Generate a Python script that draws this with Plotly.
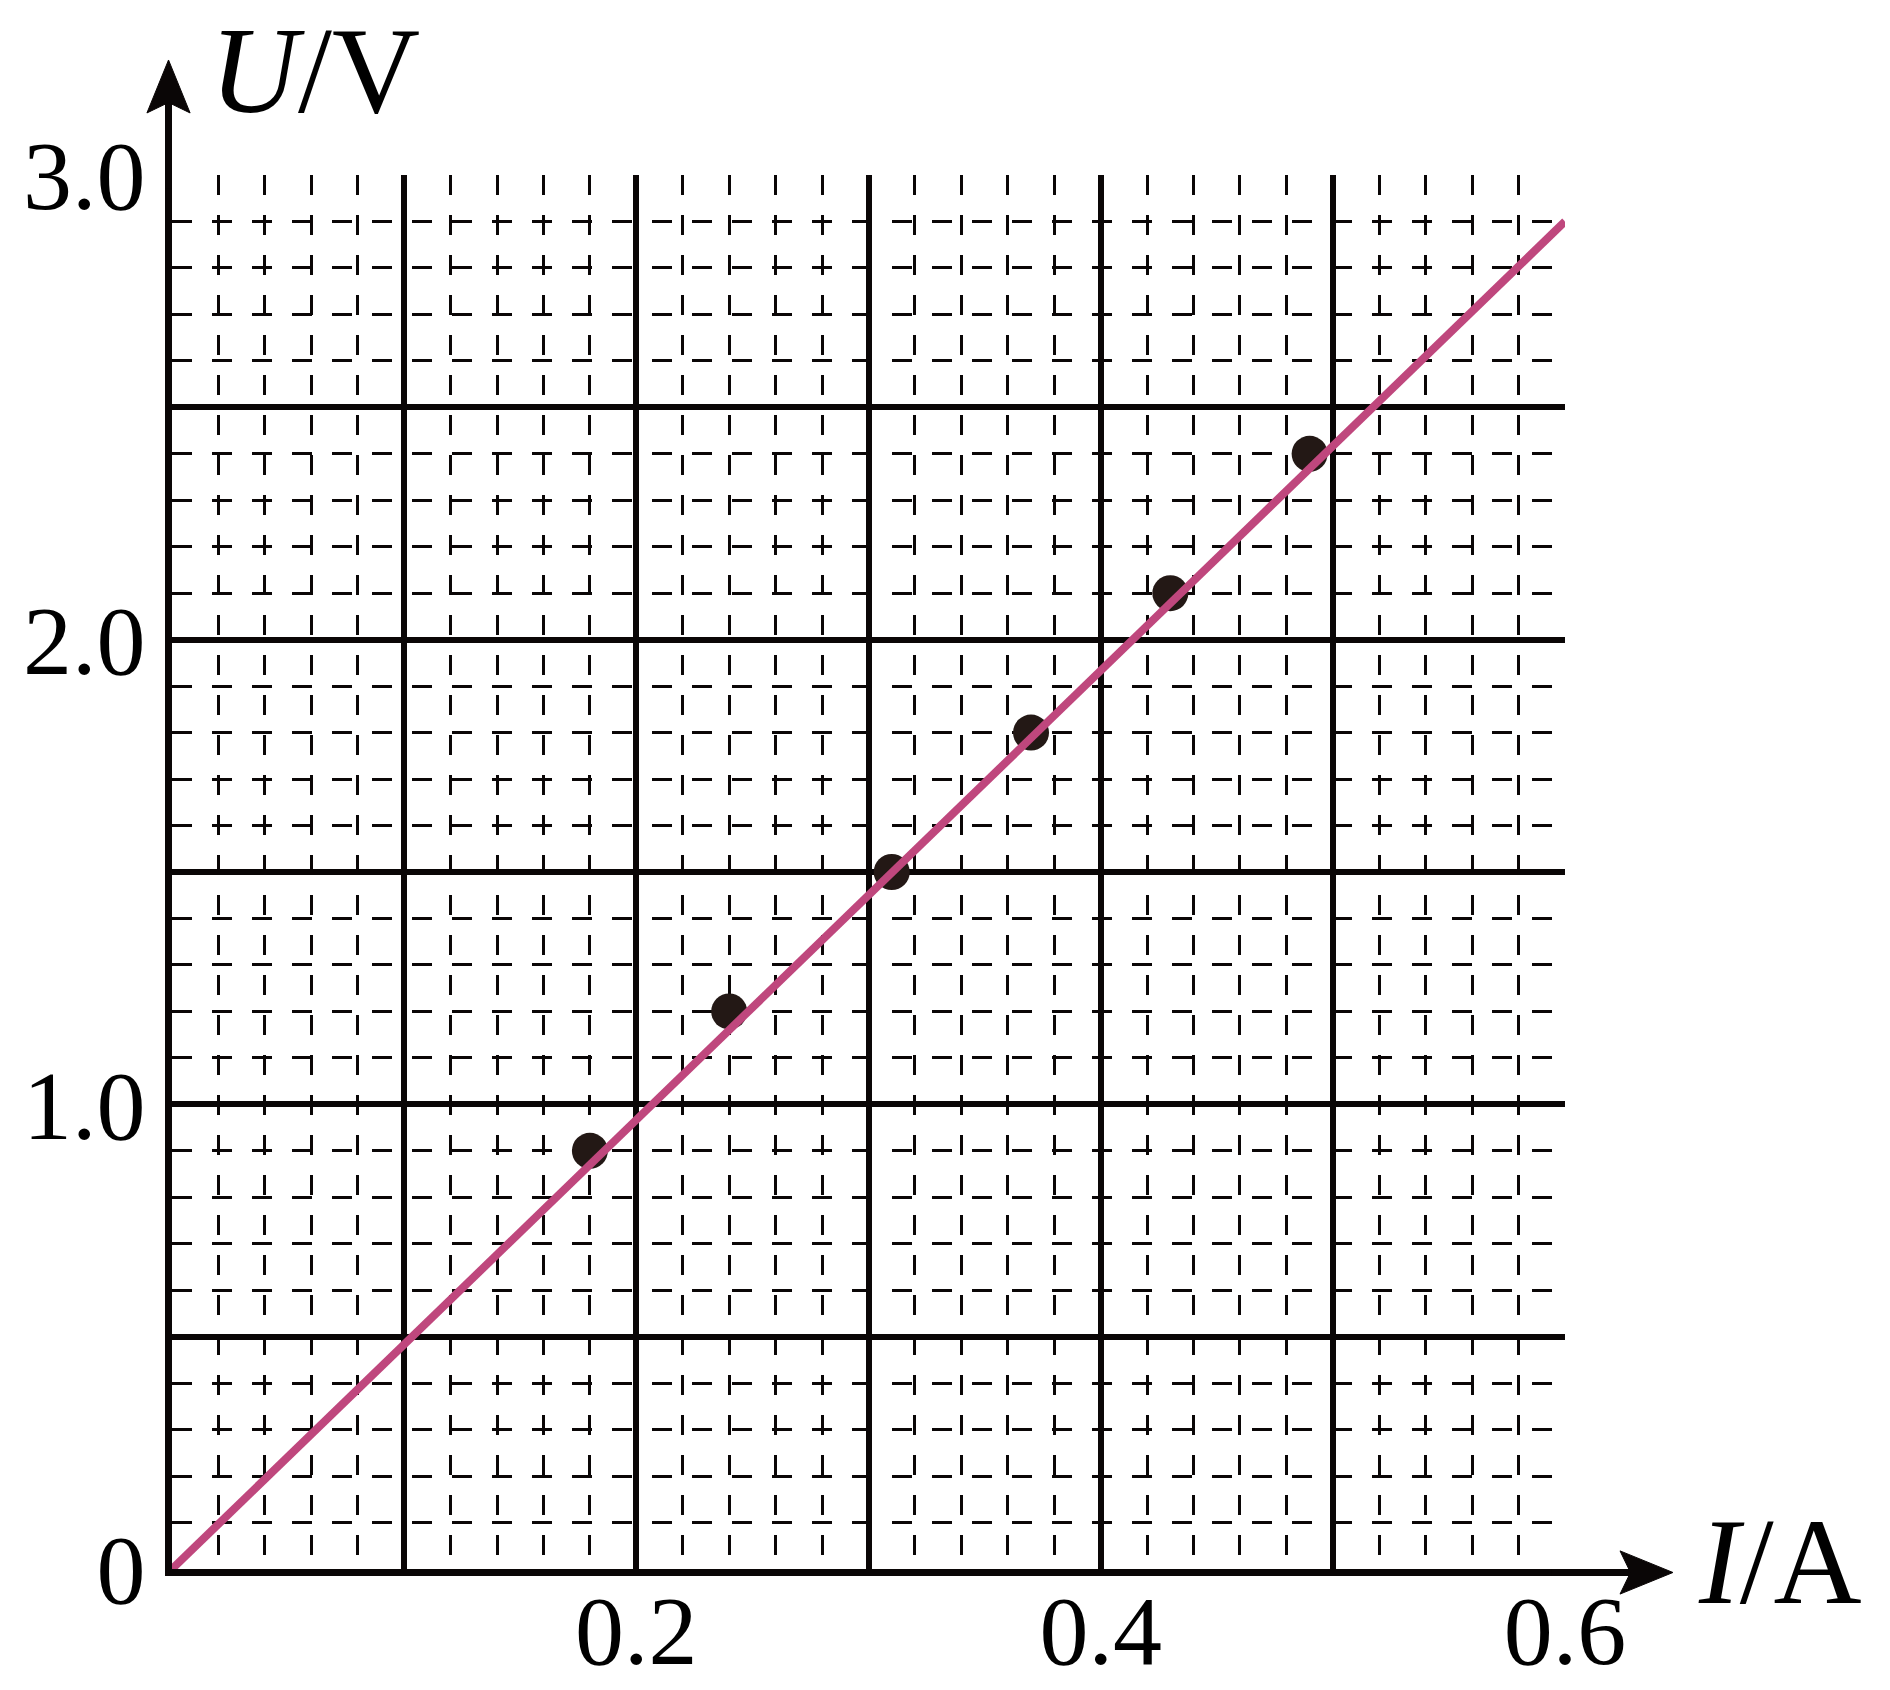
import plotly.graph_objects as go

# measured points (I in A, U in V)
current = [0.18, 0.24, 0.31, 0.37, 0.43, 0.49]
voltage = [0.9, 1.2, 1.5, 1.8, 2.1, 2.4]

# fitted line end points
fit_i = [0.0, 0.6]
fit_u = [0.0, 2.9]

x_ticks = [0.0, 0.1, 0.2, 0.3, 0.4, 0.5, 0.6]
x_text = ["", "", "0.2", "", "0.4", "", "0.6"]
y_ticks = [0.0, 0.5, 1.0, 1.5, 2.0, 2.5, 3.0]
y_text = ["0", "", "1.0", "", "2.0", "", "3.0"]

ink = "#0a0606"
font = "Liberation Serif"

fig = go.Figure()

fig.add_trace(go.Scatter(
    x=current, y=voltage, mode="markers",
    marker=dict(size=36, color="#231815"),
    cliponaxis=False,
))
fig.add_trace(go.Scatter(
    x=fit_i, y=fit_u, mode="lines",
    line=dict(color="#bf477d", width=8),
    cliponaxis=False,
))

axis_common = dict(
    showline=True, linecolor=ink, linewidth=7,
    showgrid=True, gridcolor=ink, gridwidth=6,
    zeroline=False, mirror=False, automargin=False,
    ticks="outside", ticklen=0,
    tickfont=dict(family=font, size=98, color="black"),
)

fig.update_xaxes(
    range=[0, 0.6], tickmode="array", tickvals=x_ticks, ticktext=x_text,
    ticklabelstandoff=-30,
    minor=dict(tickmode="linear", tick0=0, dtick=0.02, showgrid=True,
               gridcolor=ink, gridwidth=2.5, griddash="20px,20px"),
    **axis_common,
)
fig.update_yaxes(
    range=[0, 3.0], tickmode="array", tickvals=y_ticks, ticktext=y_text,
    ticklabelstandoff=0,
    minor=dict(tickmode="linear", tick0=0, dtick=0.1, showgrid=True,
               gridcolor=ink, gridwidth=2.5, griddash="20px,20px"),
    **axis_common,
)

# axis arrows (shaft + barbed head, in paper units)
ox = -0.0025  # axis lines sit half a line width outside the plot area
oy = -0.0025
fig.add_shape(type="line", xref="paper", yref="paper",
              x0=ox, y0=0.99, x1=ox, y1=1.053,
              line=dict(color=ink, width=7))
fig.add_shape(type="path", xref="paper", yref="paper",
              path=f"M {ox} 1.0825 L {ox + 0.0155} 1.0445 L {ox} 1.0520 "
                   f"L {ox - 0.0155} 1.0445 Z",
              fillcolor=ink, line=dict(color=ink, width=1))
fig.add_shape(type="line", xref="paper", yref="paper",
              x0=0.99, y0=oy, x1=1.048, y1=oy,
              line=dict(color=ink, width=7))
fig.add_shape(type="path", xref="paper", yref="paper",
              path=f"M 1.0775 {oy} L 1.0395 {oy + 0.0155} L 1.0470 {oy} "
                   f"L 1.0395 {oy - 0.0155} Z",
              fillcolor=ink, line=dict(color=ink, width=1))

# axis titles
fig.add_annotation(x=0.026, y=1.075, xref="paper", yref="paper",
                   text="<i>U</i>/V", showarrow=False,
                   xanchor="left", yanchor="middle",
                   font=dict(family=font, size=122, color="black"))
fig.add_annotation(x=1.094, y=0.0055, xref="paper", yref="paper",
                   text="<i>I</i>/A", showarrow=False,
                   xanchor="left", yanchor="middle",
                   font=dict(family=font, size=122, color="black"))

fig.update_layout(
    width=1890, height=1690,
    margin=dict(l=164, r=333, t=167, b=129),
    plot_bgcolor="white", paper_bgcolor="white",
    showlegend=False,
)

fig.write_html("out.html")
